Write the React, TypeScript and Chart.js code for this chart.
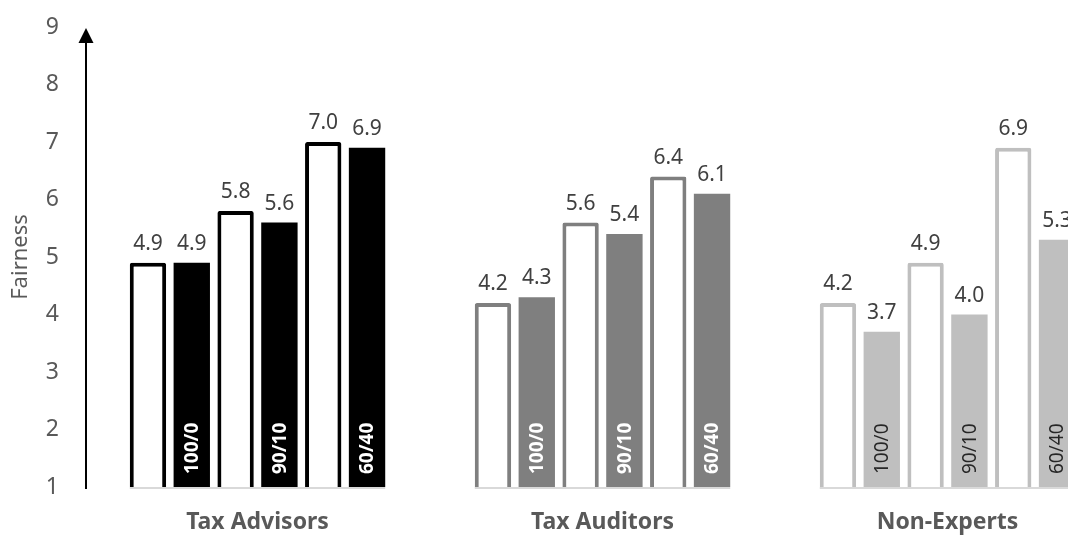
import React, { useEffect, useRef } from "react";
import { Chart, registerables } from "chart.js";

Chart.register(...registerables);

const groups = ["Tax Advisors", "Tax Auditors", "Non-Experts"];
const splitLabels = ["100/0", "90/10", "60/40"];
// outlined (white) bars per split, then filled bars per split; one value per group
const outline100 = [4.9, 4.2, 4.2];
const filled100 = [4.9, 4.3, 3.7];
const outline90 = [5.8, 5.6, 4.9];
const filled90 = [5.6, 5.4, 4.0];
const outline60 = [7.0, 6.4, 6.9];
const filled60 = [6.9, 6.1, 5.3];
const yTicks = [1, 2, 3, 4, 5, 6, 7, 8, 9];

const groupColors = ["#000000", "#7f7f7f", "#bfbfbf"];
const innerTextColors = ["#ffffff", "#ffffff", "#262626"];
const innerBold = [true, true, false];
const FONT = '"Noto Sans", "DejaVu Sans", sans-serif';

const overlayPlugin = {
  id: "overlay",
  afterDatasetsDraw(chart: any) {
    const ctx = chart.ctx;
    const area = chart.chartArea;
    const n = chart.data.datasets.length;
    ctx.save();
    // light baseline segment under each group
    for (let g = 0; g < groups.length; g++) {
      const first = chart.getDatasetMeta(0).data[g];
      const last = chart.getDatasetMeta(n - 1).data[g];
      if (!first || !last) continue;
      ctx.strokeStyle = "#d9d9d9";
      ctx.lineWidth = 2;
      ctx.beginPath();
      ctx.moveTo(first.x - first.width / 2, area.bottom + 1);
      ctx.lineTo(last.x + last.width / 2, area.bottom + 1);
      ctx.stroke();
    }
    // value labels + inner rotated labels
    chart.data.datasets.forEach((ds: any, di: number) => {
      const meta = chart.getDatasetMeta(di);
      meta.data.forEach((bar: any, gi: number) => {
        const v = ds.data[gi];
        ctx.fillStyle = "#404040";
        ctx.font = `21px ${FONT}`;
        ctx.textAlign = "center";
        ctx.textBaseline = "alphabetic";
        ctx.fillText(v.toFixed(1), bar.x, bar.y - 13);
        if (ds.inner) {
          ctx.save();
          ctx.translate(bar.x, area.bottom - 13);
          ctx.rotate(-Math.PI / 2);
          ctx.font = `${innerBold[gi] ? "bold " : ""}19px ${FONT}`;
          ctx.fillStyle = innerTextColors[gi];
          ctx.textAlign = "left";
          ctx.textBaseline = "middle";
          ctx.fillText(ds.inner, 0, 1);
          ctx.restore();
        }
      });
    });
    // arrow y-axis
    const x = area.left + 1;
    ctx.strokeStyle = "#000";
    ctx.fillStyle = "#000";
    ctx.lineWidth = 2;
    ctx.beginPath();
    ctx.moveTo(x, area.bottom + 2);
    ctx.lineTo(x, area.top + 14);
    ctx.stroke();
    ctx.beginPath();
    ctx.moveTo(x, area.top + 1);
    ctx.lineTo(x - 7.5, area.top + 16);
    ctx.lineTo(x + 7.5, area.top + 16);
    ctx.closePath();
    ctx.fill();
    ctx.restore();
  },
};

export default function App() {
  const ref = useRef<HTMLCanvasElement>(null);
  useEffect(() => {
    if (!ref.current) return;
    const outlineDs = (label: string, data: number[]) => ({
      label,
      data,
      backgroundColor: "#ffffff",
      borderColor: groupColors,
      borderWidth: 4,
      borderRadius: 2,
      borderSkipped: "start",
    });
    const filledDs = (label: string, data: number[]) => ({
      label,
      inner: label,
      data,
      backgroundColor: groupColors,
      borderWidth: 0,
    });
    const chart = new Chart(ref.current, {
      type: "bar",
      data: {
        labels: groups,
        datasets: [
          outlineDs("Outline " + splitLabels[0], outline100),
          filledDs(splitLabels[0], filled100),
          outlineDs("Outline " + splitLabels[1], outline90),
          filledDs(splitLabels[1], filled90),
          outlineDs("Outline " + splitLabels[2], outline60),
          filledDs(splitLabels[2], filled60),
        ] as any,
      },
      options: {
        animation: false,
        responsive: false,
        devicePixelRatio: 1,
        layout: { padding: { top: 27, right: 0, left: 0, bottom: 0 } },
        datasets: { bar: { categoryPercentage: 0.762, barPercentage: 0.83 } },
        plugins: { legend: { display: false }, tooltip: { enabled: false } },
        scales: {
          x: {
            type: "category",
            grid: { display: false, drawTicks: false },
            border: { display: false },
            ticks: {
              padding: 22,
              color: "#595959",
              font: { family: FONT, size: 23, weight: "bold" },
              maxRotation: 0,
            },
            afterFit: (s: any) => {
              s.height = 49;
            },
          },
          y: {
            type: "linear",
            min: 1,
            max: 9,
            grid: { display: false, drawTicks: false },
            border: { display: false },
            afterBuildTicks: (s: any) => {
              s.ticks = yTicks.map((v) => ({ value: v }));
            },
            ticks: {
              padding: 26,
              color: "#595959",
              font: { family: FONT, size: 23 },
            },
            title: {
              display: true,
              text: "Fairness",
              color: "#595959",
              font: { family: FONT, size: 22 },
              padding: { top: 8, bottom: 0 },
            },
            afterFit: (s: any) => {
              s.width = 85;
              s.paddingTop = 0;
              s.paddingBottom = 0;
            },
          },
        },
      },
      plugins: [overlayPlugin],
    } as any);
    return () => chart.destroy();
  }, []);
  return (
    <div
      style={{
        position: "fixed",
        left: 0,
        top: 0,
        width: 1068,
        height: 536,
        overflow: "hidden",
        background: "#fff",
      }}
    >
      <canvas ref={ref} width={1120} height={536} style={{ display: "block", width: 1120, height: 536 }} />
    </div>
  );
}
